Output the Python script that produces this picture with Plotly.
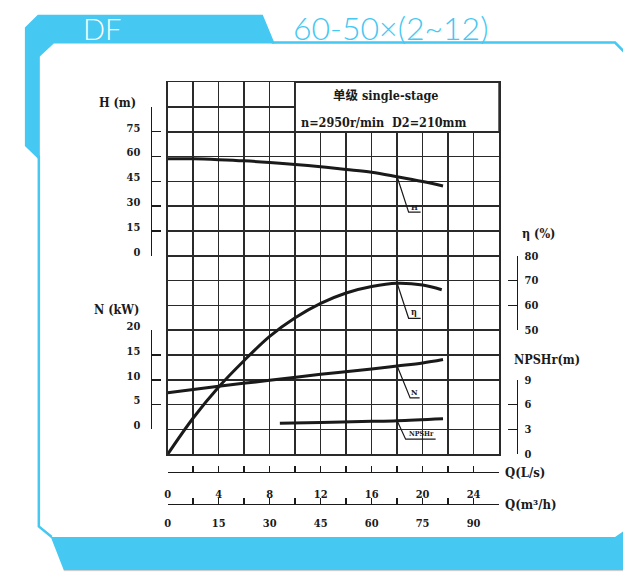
import plotly.graph_objects as go

W, HP = 623, 578

# ---------------- data ----------------
Q_H = [0, 2, 4, 6, 8, 10, 12, 14, 16, 18, 20, 21.6]
H_vals = [58.7, 58.6, 58.1, 57.4, 56.4, 55.2, 53.8, 52.2, 50.5, 47.8, 44.9, 42.2]

Q_eta = [0, 2, 4, 6, 8, 10, 12, 14, 16, 18, 20, 21.5]
eta_vals = [0, 14.6, 27.1, 37.8, 47.5, 55.0, 60.8, 65.0, 67.6, 68.9, 68.2, 66.3]

Q_N = [0, 4, 8, 12, 16, 18, 20, 21.6]
N_vals = [7.4, 8.7, 9.9, 11.1, 12.2, 12.8, 13.4, 14.1]

Q_NPSH = [8.8, 12, 16, 18, 21.6]
NPSH_vals = [3.75, 3.85, 3.98, 4.06, 4.3]

H_ticks = [0, 15, 30, 45, 60, 75, 90]
H_ticktext = ["0", "15", "30", "45", "60", "75", ""]
N_ticks = [0, 5, 10, 15, 20]
eta_ticks = [50, 60, 70, 80]
npsh_ticks = [0, 3, 6, 9]
Qls_ticks = [0, 4, 8, 12, 16, 20, 24]
Qm3h_ticks = [0, 15, 30, 45, 60, 75, 90]

LABEL_Q = 18  # flow where the curve labels are attached

# ---------------- helpers ----------------
def px(x):
    return x / W

def py(y):
    return 1 - y / HP

BLUE = "#45C8F2"
INK = "#1a1a1a"
SERIF = "DejaVu Serif Condensed, Liberation Serif, serif"

gx0, gx1 = px(165.5), px(498.5)
gy0, gy1 = py(457.7), py(74.3)
row = (gy1 - gy0) / 15

fig = go.Figure()

# curves
fig.add_trace(go.Scatter(x=Q_H, y=H_vals, mode="lines", line=dict(color=INK, width=3, shape="spline"),
                         xaxis="x", yaxis="y", hoverinfo="skip"))
fig.add_trace(go.Scatter(x=Q_eta, y=eta_vals, mode="lines", line=dict(color=INK, width=3, shape="spline"),
                         xaxis="x", yaxis="y2", hoverinfo="skip"))
fig.add_trace(go.Scatter(x=Q_N, y=N_vals, mode="lines", line=dict(color=INK, width=3, shape="spline"),
                         xaxis="x", yaxis="y3", hoverinfo="skip"))
fig.add_trace(go.Scatter(x=Q_NPSH, y=NPSH_vals, mode="lines", line=dict(color=INK, width=3, shape="spline"),
                         xaxis="x", yaxis="y4", hoverinfo="skip"))

# dummy traces so the free axes are drawn
for xa, ya in [("x2", "y"), ("x3", "y"), ("x4", "y5"), ("x4", "y6"), ("x4", "y7"), ("x4", "y8")]:
    fig.add_trace(go.Scatter(x=[None], y=[None], xaxis=xa, yaxis=ya, mode="markers",
                             hoverinfo="skip", showlegend=False))

tickfont = dict(family=SERIF, size=11, color=INK, weight="bold")
GRID = "#2a2a2a"

layout = dict(
    width=W, height=HP, margin=dict(l=0, r=0, t=0, b=0),
    paper_bgcolor="white", plot_bgcolor="rgba(0,0,0,0)", showlegend=False,
    xaxis=dict(domain=[gx0, gx1], range=[0, 26], dtick=2, tick0=0, showgrid=True, gridcolor=GRID,
               gridwidth=1.6, showticklabels=False, ticks="", showline=True, mirror=True,
               linecolor=GRID, linewidth=1.6, zeroline=False, anchor="y", fixedrange=True),
    yaxis=dict(domain=[gy0, gy1], range=[-120, 105], dtick=15, tick0=0, showgrid=True, gridcolor=GRID,
               gridwidth=1.6, showticklabels=False, ticks="", showline=True, mirror=True,
               linecolor=GRID, linewidth=1.6, zeroline=False, anchor="x", fixedrange=True),
    yaxis2=dict(overlaying="y", range=[0, 150], visible=False, anchor="x"),
    yaxis3=dict(overlaying="y", range=[-5, 70], visible=False, anchor="x"),
    yaxis4=dict(overlaying="y", range=[0, 45], visible=False, anchor="x"),
    # bottom flow axes
    xaxis2=dict(overlaying="x", anchor="free", position=py(476), range=[0, 26], tickvals=Qls_ticks,
                ticks="inside", ticklen=6, tickwidth=1.4, tickcolor=INK, showline=True, linecolor=INK,
                linewidth=1.4, showgrid=False, zeroline=False, tickfont=tickfont, ticklabelstandoff=11,
                minor=dict(dtick=2, tick0=0, ticks="inside", ticklen=6, tickwidth=1.4, tickcolor=INK,
                           showgrid=False)),
    xaxis3=dict(overlaying="x", anchor="free", position=py(509), range=[0, 97.5], tickvals=Qm3h_ticks,
                ticks="inside", ticklen=6, tickwidth=1.4, tickcolor=INK, showline=True, linecolor=INK,
                linewidth=1.4, showgrid=False, zeroline=False, tickfont=tickfont, ticklabelstandoff=8,
                minor=dict(dtick=7.5, tick0=0, ticks="inside", ticklen=6, tickwidth=1.4, tickcolor=INK,
                           showgrid=False)),
    xaxis4=dict(domain=[gx0, gx1], range=[0, 26], visible=False, anchor="free", position=0),
    # bracket scales
    yaxis5=dict(domain=[gy0 + 8 * row, gy0 + 14 * row], range=[0, 90], tickvals=H_ticks, ticktext=H_ticktext,
                anchor="free", position=px(148.3), side="left", ticks="inside", ticklen=9, tickwidth=1.4,
                tickcolor=INK, showline=True, linecolor=INK, linewidth=1.4, showgrid=False, zeroline=False,
                tickfont=tickfont, ticklabelshift=-4, ticklabelstandoff=8),
    yaxis6=dict(domain=[gy0 + 1 * row, gy0 + 5 * row], range=[0, 20], tickvals=N_ticks,
                anchor="free", position=px(148.3), side="left", ticks="inside", ticklen=9, tickwidth=1.4,
                tickcolor=INK, showline=True, linecolor=INK, linewidth=1.4, showgrid=False, zeroline=False,
                tickfont=tickfont, ticklabelshift=-4, ticklabelstandoff=8),
    yaxis7=dict(domain=[gy0 + 5 * row, gy0 + 8 * row], range=[50, 80], tickvals=eta_ticks,
                anchor="free", position=px(516.5), side="right", ticks="inside", ticklen=9, tickwidth=1.4,
                tickcolor=INK, showline=True, linecolor=INK, linewidth=1.4, showgrid=False, zeroline=False,
                tickfont=tickfont, ticklabelstandoff=4),
    yaxis8=dict(domain=[gy0, gy0 + 3 * row], range=[0, 9], tickvals=npsh_ticks,
                anchor="free", position=px(516.5), side="right", ticks="inside", ticklen=9, tickwidth=1.4,
                tickcolor=INK, showline=True, linecolor=INK, linewidth=1.4, showgrid=False, zeroline=False,
                tickfont=tickfont, ticklabelstandoff=4),
)
fig.update_layout(**layout)

shapes = []
# decorative frame
shapes.append(dict(type="path", xref="paper", yref="paper", layer="below",
                   path=f"M {px(22)},{py(140)} L {px(22)},{py(18)} L {px(35)},{py(5)} L {px(261)},{py(5)} "
                        f"L {px(273)},{py(34.5)} L {px(51)},{py(34.5)} L {px(37)},{py(48)} L {px(37)},{py(155)} Z",
                   fillcolor=BLUE, line=dict(width=0)))
shapes.append(dict(type="path", xref="paper", yref="paper", layer="below",
                   path=f"M {px(270)},{py(33.5)} L {px(615)},{py(33.5)} L {px(626)},{py(45)}",
                   line=dict(color=BLUE, width=2.5)))
shapes.append(dict(type="path", xref="paper", yref="paper", layer="below",
                   path=f"M {px(36)},{py(150)} L {px(36)},{py(532)} L {px(49)},{py(543)}",
                   line=dict(color=BLUE, width=2.5)))
shapes.append(dict(type="path", xref="paper", yref="paper", layer="below",
                   path=f"M {px(48)},{py(543)} L {px(615)},{py(543)} L {px(626)},{py(535)} L {px(626)},{py(577)} "
                        f"L {px(61)},{py(577)} Z",
                   fillcolor=BLUE, line=dict(width=0)))
shapes.append(dict(type="line", xref="paper", yref="paper", layer="below",
                   x0=px(61), x1=1, y0=py(577.6), y1=py(577.6), line=dict(color="#c8c8c8", width=1)))

# white caption box inside the grid
shapes.append(dict(type="rect", xref="x", yref="y", x0=10, x1=26, y0=75, y1=105, layer="above",
                   fillcolor="white", line=dict(color=GRID, width=1.6)))

# leader lines from each curve at Q = LABEL_Q
idx_H = Q_H.index(LABEL_Q)
idx_e = Q_eta.index(LABEL_Q)
idx_N = Q_N.index(LABEL_Q)
idx_P = Q_NPSH.index(LABEL_Q)
leaders = [
    ("y", H_vals[idx_H], "M0,0 L11.5,-35.5 L23.5,-35.5", "H", 17, -30, 8),
    ("y2", eta_vals[idx_e], "M0,0 L11.5,-35 L23.5,-35", "η", 17, -29, 9),
    ("y3", N_vals[idx_N], "M0,0 L13,-32 L22.5,-32", "N", 17.5, -26, 8),
    ("y4", NPSH_vals[idx_P], "M0,0 L8.5,-18.5 L38.5,-18.5", "NPSHr", 24, -13, 7),
]
annotations = []
for yref, yv, path, txt, dx, dy, fs in leaders:
    shapes.append(dict(type="path", xref="x", yref=yref, xsizemode="pixel", ysizemode="pixel",
                       xanchor=LABEL_Q, yanchor=yv, path=path, line=dict(color=INK, width=1.2)))
    annotations.append(dict(x=LABEL_Q, y=yv, xref="x", yref=yref, xshift=dx, yshift=dy, text=txt,
                            showarrow=False, font=dict(family=SERIF, size=fs, color=INK, weight="bold")))

def note(text, x, y, size=12, xanchor="center", color=INK, family=SERIF, weight="bold"):
    annotations.append(dict(text=text, x=px(x), y=py(y), xref="paper", yref="paper", xanchor=xanchor,
                            yanchor="middle", showarrow=False,
                            font=dict(family=family, size=size, color=color, weight=weight)))

# header
note("DF", 99, 19, size=29, color="white", family="Lato, Noto Sans, sans-serif", weight=300)
note("60-50×(2~12)", 389, 18, size=32, color=BLUE, family="Lato, Noto Sans, sans-serif", weight=300)

# caption box text
note("单级 single-stage", 384, 88, size=12.5, family="DejaVu Serif Condensed, Noto Sans CJK SC, serif")
note("n=2950r/min  D2=210mm", 382, 115.5, size=12.5)

# axis titles
note("H (m)", 115, 95, size=12.5)
note("N (kW)", 114, 309, size=12.5)
note("η (%)", 538, 230, size=12.5)
note("NPSHr(m)", 547, 360, size=12.5)
note("Q(L/s)", 502, 477, size=13, xanchor="left")
note("Q(m³/h)", 502, 509, size=13, xanchor="left")

fig.update_layout(shapes=shapes, annotations=annotations)

post = (
    "document.documentElement.style.margin='0';document.body.style.margin='0';"
    "document.documentElement.style.overflow='hidden';document.body.style.overflow='hidden';"
    "var g=document.querySelector('.plotly-graph-div');"
    "if(g){g.style.position='fixed';g.style.left='0px';g.style.top='0px';}"
)
fig.write_html("out.html", config={"displayModeBar": False, "staticPlot": True}, post_script=post)
